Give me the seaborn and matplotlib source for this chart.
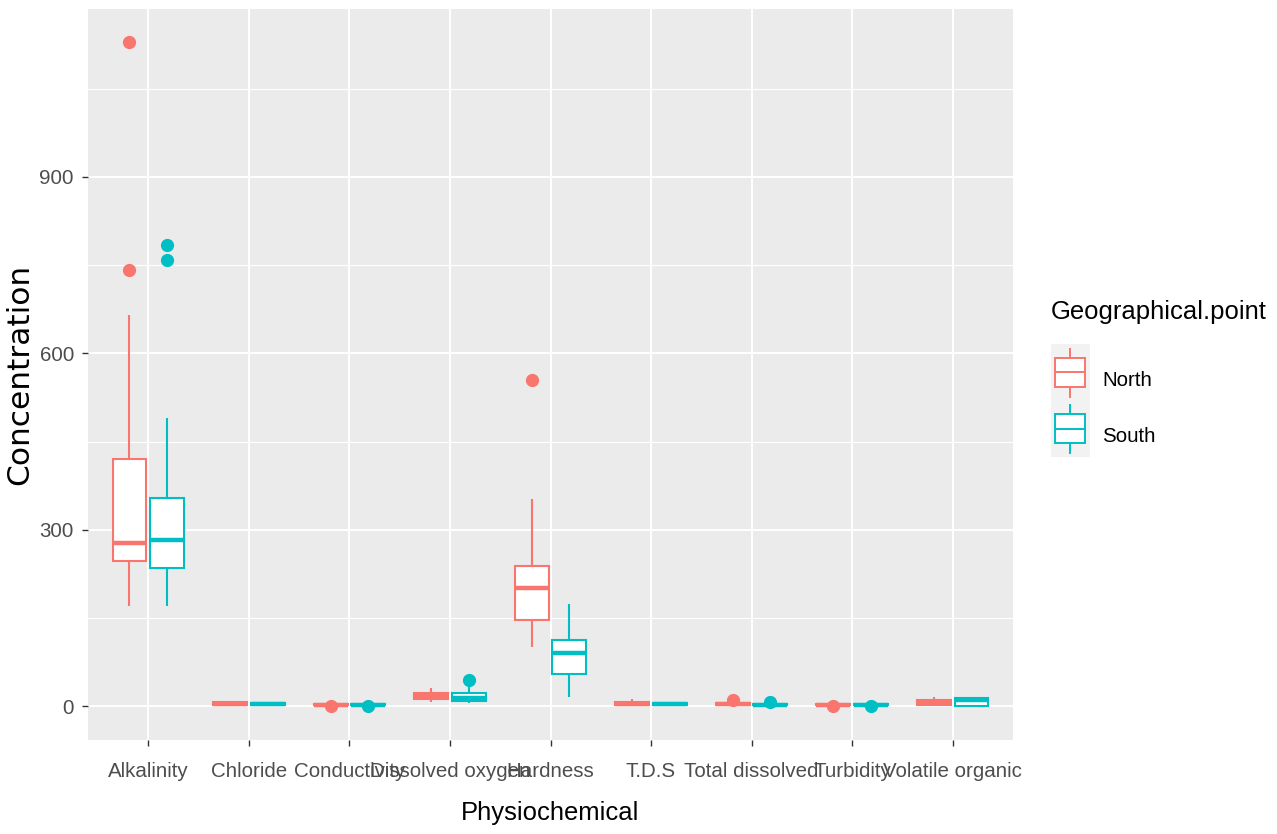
import matplotlib
matplotlib.use("Agg")
import matplotlib.pyplot as plt
import pandas as pd
import seaborn as sns
from matplotlib import font_manager as fm
from matplotlib.legend_handler import HandlerBase
from matplotlib.patches import Rectangle, Patch
from matplotlib.lines import Line2D
from matplotlib.ticker import FixedLocator

# ---- data -------------------------------------------------------------
parameters = ["Alkalinity", "Chloride", "Conductivity", "Dissolved oxygen", "Hardness",
              "T.D.S", "Total dissolved", "Turbidity", "Volatile organic"]
regions = ["North", "South"]
region_colors = ["#F8766D", "#00BFC4"]

alkalinity_north = [170, 205, 232, 247, 258, 270, 278, 305, 380, 421, 665, 742, 1130]
alkalinity_south = [170, 190, 215, 234, 250, 268, 282, 300, 330, 354, 490, 759, 784]
chloride_north = [0.0, 0.5, 1.0, 1.5, 2.0, 3.0, 3.5, 4.0, 5.0, 6.0, 6.5, 7.0, 7.5]
chloride_south = [0.2, 0.6, 1.0, 1.3, 2.0, 2.6, 3.0, 3.6, 4.2, 5.0, 5.5, 6.0, 6.5]
conductivity_north = [0.0, 1.8, 1.9, 2.0, 2.2, 2.4, 2.5, 2.6, 2.8, 3.0, 3.2, 3.4, 3.5]
conductivity_south = [-0.5, 1.6, 1.8, 2.0, 2.2, 2.4, 2.5, 2.6, 2.8, 3.0, 3.2, 3.4, 3.5]
dissolved_oxygen_north = [7, 9, 11, 12, 14, 16, 17, 19, 20, 22, 25, 28, 31]
dissolved_oxygen_south = [5, 6, 8, 9, 10, 12, 13, 16, 19, 22, 27, 33, 44]
hardness_north = [100, 120, 135, 147, 165, 185, 200, 212, 225, 238, 290, 352, 555]
hardness_south = [16, 30, 45, 54, 68, 80, 90, 98, 106, 113, 130, 150, 173]
tds_north = [0.0, 0.5, 1.0, 1.5, 2.0, 3.0, 3.5, 4.0, 5.0, 6.0, 8.0, 10.0, 11.5]
tds_south = [0.3, 0.8, 1.2, 1.6, 2.2, 2.8, 3.2, 3.8, 4.5, 5.2, 5.6, 6.0, 6.5]
total_dissolved_north = [0.0, 0.5, 1.0, 1.5, 2.0, 2.5, 3.0, 3.5, 4.0, 4.5, 5.0, 5.5, 9.5]
total_dissolved_south = [0.0, 0.5, 0.8, 1.0, 1.5, 2.0, 2.5, 3.0, 3.3, 3.5, 4.0, 4.5, 7.5]
turbidity_north = [0.3, 1.8, 1.9, 2.0, 2.2, 2.4, 2.5, 2.6, 2.8, 3.0, 3.2, 3.4, 3.5]
turbidity_south = [-0.3, 1.6, 1.8, 2.0, 2.2, 2.4, 2.5, 2.6, 2.8, 3.0, 3.2, 3.4, 3.5]
volatile_organic_north = [0.0, 1.0, 2.0, 2.5, 4.0, 5.0, 6.0, 7.0, 8.0, 9.5, 11.0, 13.0, 15.5]
volatile_organic_south = [0.0, 0.2, 0.4, 0.5, 3.0, 7.0, 11.0, 12.0, 13.0, 14.0, 14.5, 15.0, 15.5]

north_samples = [alkalinity_north, chloride_north, conductivity_north, dissolved_oxygen_north,
                 hardness_north, tds_north, total_dissolved_north, turbidity_north,
                 volatile_organic_north]
south_samples = [alkalinity_south, chloride_south, conductivity_south, dissolved_oxygen_south,
                 hardness_south, tds_south, total_dissolved_south, turbidity_south,
                 volatile_organic_south]

y_ticks = [0, 300, 600, 900]
y_minor = [150, 450, 750, 1050]

rows = []
for param, n_vals, s_vals in zip(parameters, north_samples, south_samples):
    rows += [(param, "North", v) for v in n_vals]
    rows += [(param, "South", v) for v in s_vals]
df = pd.DataFrame(rows, columns=["Physiochemical", "Geographical.point", "Concentration"])

# ---- fonts --------------------------------------------------------------
installed = {f.name for f in fm.fontManager.ttflist}
narrow = "Liberation Sans Narrow" if "Liberation Sans Narrow" in installed else "Liberation Sans"
scale = 1.0 if narrow == "Liberation Sans Narrow" else 0.83
plt.rcParams["font.family"] = [narrow, "DejaVu Sans"]

TXT = 17.8 * scale
TTL = 22.2 * scale

# ---- figure -------------------------------------------------------------
W, H = 1277, 834
PX = 72 / 100  # points per pixel at 100 dpi
fig = plt.figure(figsize=(W / 100, H / 100), dpi=100)
ax = fig.add_axes([88 / W, 1 - 740 / H, 925 / W, 731.3 / H])
ax.set_facecolor("#EBEBEB")
ax.set_axisbelow(True)

sns.boxplot(data=df, x="Physiochemical", y="Concentration", hue="Geographical.point",
            order=parameters, hue_order=regions, palette=region_colors, saturation=1,
            width=0.75, gap=0.1, linewidth=1.5, fliersize=8.5, legend=False, ax=ax)

for cont, col in zip(ax.containers, region_colors):
    for b in cont.boxes:
        b.set_facecolor("white")
        b.set_edgecolor(col)
        b.set_linewidth(1.5)
    for m in cont.medians:
        m.set_color(col)
        m.set_linewidth(3.2)
    for w in cont.whiskers:
        w.set_color(col)
        w.set_linewidth(1.5)
    for c in cont.caps:
        c.set_visible(False)
    for f in cont.fliers:
        f.set_marker("o")
        f.set_markersize(8.5)
        f.set_markerfacecolor(col)
        f.set_markeredgecolor(col)

ax.set_xlim(-0.6, len(parameters) - 0.4)
ax.set_ylim(-57.8, 1186.3)
ax.yaxis.set_major_locator(FixedLocator(y_ticks))
ax.yaxis.set_minor_locator(FixedLocator(y_minor))
ax.set_yticklabels([str(t) for t in y_ticks])

ax.grid(which="major", axis="both", color="white", linewidth=1.4)
ax.grid(which="minor", axis="y", color="white", linewidth=0.8)
for s in ax.spines.values():
    s.set_visible(False)

ax.tick_params(axis="y", which="major", length=4.3, width=1.0, color="#333333",
               labelcolor="#4D4D4D", labelsize=TXT, pad=5.8)
ax.tick_params(axis="x", which="major", length=4.5, width=1.0, color="#333333",
               labelcolor="#4D4D4D", labelsize=TXT, pad=11)
ax.tick_params(which="minor", length=0)

ax.set_xlabel("Physiochemical", fontsize=TTL, color="black")
ax.xaxis.label.set_va("center")
ax.xaxis.set_label_coords(0.5, (740 - 813) / 731.3)
ax.set_ylabel("Concentration", fontsize=22.5, color="black", family="DejaVu Sans")
ax.yaxis.label.set_va("center")
ax.yaxis.set_label_coords((20 - 88) / 925, 0.5)


# ---- legend with box-shaped keys ---------------------------------------
KEY_LIFT = 8 * PX  # keys sit a little higher than the label baseline row


class BoxKey(HandlerBase):
    def create_artists(self, legend, orig_handle, xdescent, ydescent, width, height,
                       fontsize, trans):
        col = orig_handle.get_edgecolor()
        x0, y0 = -xdescent, -ydescent + KEY_LIFT
        bg = Rectangle((x0, y0), width, height, facecolor="#F2F2F2", edgecolor="none",
                       transform=trans)
        bw, bh = 0.76 * width, 0.52 * height
        bx, by = x0 + (width - bw) / 2, y0 + (height - bh) / 2
        cx = x0 + width / 2
        box = Rectangle((bx, by), bw, bh, facecolor="white", edgecolor=col,
                        linewidth=1.4, transform=trans)
        med = Line2D([bx, bx + bw], [y0 + height / 2] * 2, color=col, lw=1.4,
                     transform=trans)
        wlo = Line2D([cx, cx], [y0 + 0.07 * height, by], color=col, lw=1.4, transform=trans)
        whi = Line2D([cx, cx], [by + bh, y0 + 0.92 * height], color=col, lw=1.4,
                     transform=trans)
        return [bg, box, med, wlo, whi]


fs_px = TXT / PX
key_w_px, key_h_px = 39.5, 56.5
# total handle box height = fontsize * (0.65 * handleheight + 0.245)
handle_h = ((key_h_px * PX) / TXT - 0.245) / 0.65
handles = [Patch(facecolor="white", edgecolor=c, label=r) for r, c in zip(regions, region_colors)]
leg = fig.legend(handles=handles, labels=regions, title="Geographical.point",
                 loc="upper left", bbox_to_anchor=(1050.5 / W, 1 - 300 / H),
                 bbox_transform=fig.transFigure, frameon=False, fontsize=TXT,
                 title_fontsize=TTL, alignment="left", handler_map={Patch: BoxKey()},
                 handlelength=key_w_px / fs_px, handleheight=handle_h,
                 handletextpad=12 / fs_px, labelspacing=0, borderpad=0, borderaxespad=0)
leg._legend_box.sep = 14.4 + KEY_LIFT

fig.savefig("out.png", dpi=100, facecolor="white")
